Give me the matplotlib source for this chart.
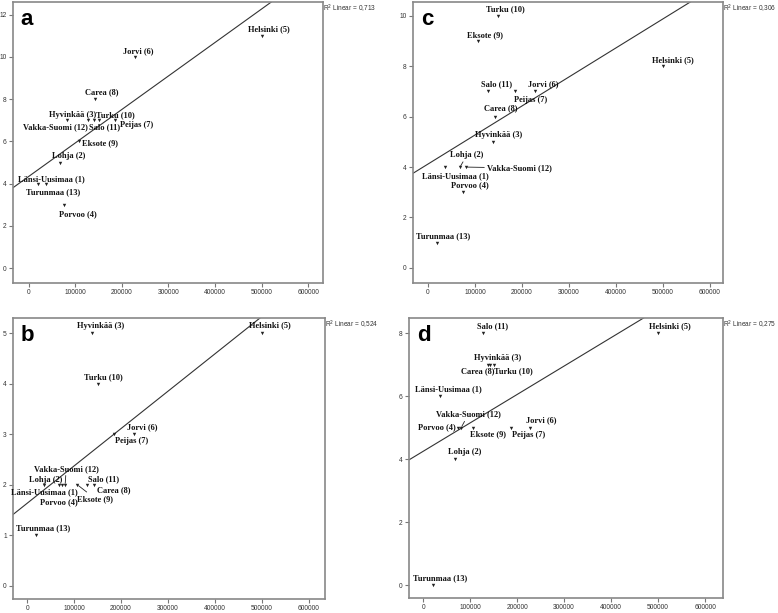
import matplotlib
matplotlib.use("Agg")
import matplotlib.pyplot as plt
import numpy as np

# hospital districts, x = population, y = score per panel
districts = ["Länsi-Uusimaa (1)", "Lohja (2)", "Hyvinkää (3)", "Porvoo (4)", "Helsinki (5)",
             "Jorvi (6)", "Peijas (7)", "Carea (8)", "Eksote (9)", "Turku (10)",
             "Salo (11)", "Vakka-Suomi (12)", "Turunmaa (13)"]
population = [36000, 68000, 139000, 75000, 500000, 228000, 186000, 143000, 107000, 150000,
              128000, 81000, 20000]
score_a = [4, 5, 7, 3, 11, 10, 7, 8, 6, 7, 7, 7, 4]
score_b = [2, 2, 5, 2, 5, 3, 3, 2, 2, 4, 2, 2, 1]
score_c = [4, 4, 5, 3, 8, 7, 7, 6, 9, 10, 7, 4, 1]
score_d = [6, 4, 7, 5, 8, 5, 5, 7, 5, 7, 8, 5, 0]
r2_labels = ["R$^2$ Linear = 0,713", "R$^2$ Linear = 0,524", "R$^2$ Linear = 0,306", "R$^2$ Linear = 0,275"]
panel_letters = ["a", "b", "c", "d"]
y_ticks = [np.arange(0, 13, 2), np.arange(0, 6, 1), np.arange(0, 11, 2), np.arange(0, 9, 2)]
x_ticks = [0, 100000, 200000, 300000, 400000, 500000, 600000]

# layout
positions = [[13, 2, 323, 283], [13, 318, 325, 599], [413, 2, 723, 283], [409, 318, 723, 598]]
ylims = [(-0.7, 12.6), (-0.26, 5.3), (-0.6, 10.55), (-0.41, 8.48)]
xlims = [(-34000, 632000), (-30000, 634000), (-32000, 628000), (-30000, 638000)]

# label offsets in pixels (dx, dy up), ha; and which ones get a leader line
offsets = [
    {0: (6, 5, "center"), 1: (8, 7, "center"), 2: (3, 5, "right"), 3: (14, -9, "center"),
     4: (7, 7, "center"), 5: (3, 6, "center"), 6: (5, -5, "left"), 7: (6, 7, "center"),
     8: (3, -2, "left"), 9: (-3, 5, "left"), 10: (1, -7, "left"), 11: (-11, -7, "center"),
     12: (15, -8, "center")},
    {0: (0, -7, "center"), 1: (-13, 5, "center"), 2: (8, 7, "center"), 3: (-3, -17, "center"),
     4: (8, 8, "center"), 5: (8, 7, "center"), 6: (17, -7, "center"), 7: (19, -5, "center"),
     8: (18, -14, "center"), 9: (6, 7, "center"), 10: (16, 6, "center"), 11: (1, 16, "center"),
     12: (7, 7, "center")},
    {0: (10, -9, "center"), 1: (7, 12, "center"), 2: (5, 7, "center"), 3: (7, 7, "center"),
     4: (10, 6, "center"), 5: (8, 7, "center"), 6: (15, -9, "center"), 7: (6, 8, "center"),
     8: (7, 6, "center"), 9: (7, 7, "center"), 10: (8, 7, "center"), 11: (21, -1, "left"),
     12: (6, 6, "center")},
    {0: (8, 7, "center"), 1: (10, 7, "center"), 2: (9, 7, "center"), 3: (-3, 0, "right"),
     4: (12, 7, "center"), 5: (11, 7, "center"), 6: (18, -7, "center"), 7: (-13, -7, "center"),
     8: (15, -7, "center"), 9: (20, -7, "center"), 10: (9, 7, "center"), 11: (7, 13, "center"),
     12: (8, 7, "center")},
]
leaders = [set(), {8, 11}, {1, 11}, {11}]

W, H = 778, 613
fig = plt.figure(figsize=(W / 100, H / 100), dpi=100)

scores = [score_a, score_b, score_c, score_d]
x = np.array(population)

for i in range(4):
    l, t, r, b = positions[i]
    ax = fig.add_axes([l / W, 1 - b / H, (r - l) / W, (b - t) / H])
    y = np.array(scores[i])

    ax.scatter(x, y, marker="v", s=6, color="#222222", linewidths=0, zorder=3)

    slope, intercept = np.polyfit(x, y, 1)
    xx = np.array(xlims[i])
    ax.plot(xx, slope * xx + intercept, color="#333333", lw=0.8, zorder=2)

    for j, name in enumerate(districts):
        dx, dy, ha = offsets[i][j]
        arrow = None
        if j in leaders[i]:
            arrow = dict(arrowstyle="-", color="#222222", lw=0.6, shrinkA=0, shrinkB=1)
        ax.annotate(name, (x[j], y[j]), xytext=(dx, dy), textcoords="offset pixels",
                    ha=ha, va="center", fontsize=6, fontweight="bold",
                    family="Liberation Serif", color="#111111", arrowprops=arrow, zorder=4)

    ax.set_xlim(xlims[i])
    ax.set_ylim(ylims[i])
    ax.set_xticks(x_ticks)
    ax.set_xticklabels([str(v) for v in x_ticks])
    ax.set_yticks(y_ticks[i])
    ax.tick_params(direction="out", length=3, width=0.8, color="#777777",
                   labelsize=4.8, pad=1.5, labelcolor="#333333")
    for lab in ax.get_xticklabels() + ax.get_yticklabels():
        lab.set_family("Liberation Sans")
    for sp in ax.spines.values():
        sp.set_color("#888888")
        sp.set_linewidth(1.2)

    ax.text(0.025, 0.975, panel_letters[i], transform=ax.transAxes, ha="left", va="top",
            fontsize=16, fontweight="bold", family="Liberation Sans")
    ax.annotate(r2_labels[i], (1.0, 1.0), xycoords="axes fraction", xytext=(0, -1),
                textcoords="offset pixels", ha="left", va="top",
                fontsize=4.7, family="Liberation Sans", color="#333333")

fig.savefig("out.png", dpi=100)
